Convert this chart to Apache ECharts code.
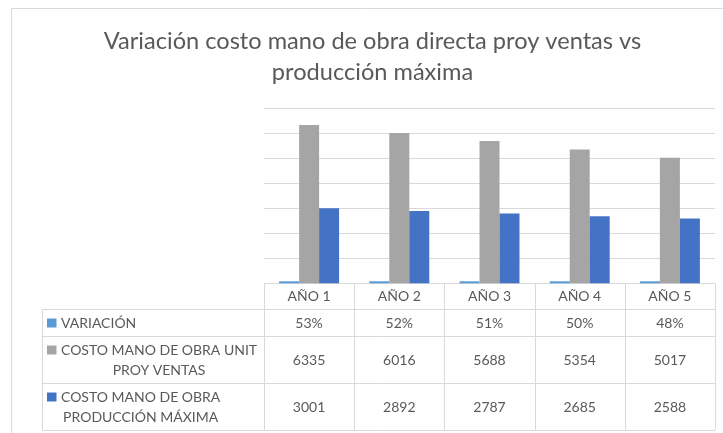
<!DOCTYPE html>
<html>
<head>
<meta charset="utf-8">
<script src="https://cdn.jsdelivr.net/npm/echarts@6/dist/echarts.min.js"></script>
<style>
  html, body { margin: 0; padding: 0; background: #fff; }
  #chart { width: 723px; height: 433px; }
</style>
</head>
<body>
<div id="chart"></div>
<script>
// Años proyectados
const categories = ['AÑO 1', 'AÑO 2', 'AÑO 3', 'AÑO 4', 'AÑO 5'];
// Variación (fracción) entre ambos costos
const variacion = [0.53, 0.52, 0.51, 0.50, 0.48];
// Costo mano de obra unitario según proyección de ventas
const costoProyVentas = [6335, 6016, 5688, 5354, 5017];
// Costo mano de obra a producción máxima
const costoProdMaxima = [3001, 2892, 2787, 2685, 2588];
// Nombres de serie, en líneas tal como aparecen en la tabla de datos
const seriesLabels = [
  ['VARIACIÓN'],
  ['COSTO MANO DE OBRA UNIT', 'PROY VENTAS'],
  ['COSTO MANO DE OBRA', 'PRODUCCIÓN MÁXIMA']
];
const titleLines = ['Variación costo mano de obra directa proy ventas vs', 'producción máxima'];
const colors = ['#5B9BD5', '#A5A5A5', '#4472C4'];

const FONT = 'Lato, "Open Sans", sans-serif';
const TEXT_COLOR = '#595959';
const LINE_COLOR = '#d9d9d9';

const chart = echarts.init(document.getElementById('chart'), null, { renderer: 'canvas' });

const gridTop = 108.3, gridBottom = 283.3;
const seriesData = [variacion, costoProyVentas, costoProdMaxima];

chart.setOption({
  animation: false,
  backgroundColor: '#fff',
  grid: { left: 264, right: 8, top: gridTop, bottom: 433 - gridBottom, containLabel: false },
  xAxis: {
    type: 'category',
    data: categories,
    axisLine: { show: false },
    axisTick: { show: false },
    axisLabel: { show: false }
  },
  yAxis: {
    type: 'value',
    min: 0, max: 7000, interval: 1000,
    axisLabel: { show: false },
    axisLine: { show: false },
    axisTick: { show: false },
    splitLine: { lineStyle: { color: LINE_COLOR, width: 1 } }
  },
  series: seriesData.map((d, i) => ({
    type: 'bar',
    name: seriesLabels[i].join(' '),
    data: d,
    barGap: '0%',
    barCategoryGap: '33.5%',
    barMinHeight: i === 0 ? 2 : 0,
    itemStyle: { color: colors[i] }
  }))
});

// Tabla de datos bajo el gráfico
const measureCtx = document.createElement('canvas').getContext('2d');
function textWidth(str, size) {
  measureCtx.font = size + 'px ' + FONT;
  return measureCtx.measureText(str).width;
}

const x0 = chart.convertToPixel({ xAxisIndex: 0 }, 0);
const x1 = chart.convertToPixel({ xAxisIndex: 0 }, 1);
const band = x1 - x0;
const colEdges = categories.map((c, i) => chart.convertToPixel({ xAxisIndex: 0 }, i) - band / 2);
colEdges.push(colEdges[colEdges.length - 1] + band);
const tableLeft = 42;
const tableRight = colEdges[colEdges.length - 1];
const rowEdges = [gridBottom, 308.5, 335.5, 382.5, 429.5];
const FS = 14;

const els = [];
// Marco exterior
els.push({ type: 'rect', shape: { x: 11.5, y: 8.5, width: 800, height: 500 },
  style: { fill: null, stroke: LINE_COLOR, lineWidth: 1 }, z: -1 });

// Título centrado en dos líneas
titleLines.forEach((t, k) => {
  els.push({ type: 'text', x: 372.5, y: 41 + k * 31,
    style: { text: t, font: '23.6px ' + FONT, fill: TEXT_COLOR, align: 'center', verticalAlign: 'middle' } });
});

function hline(xa, xb, y) {
  els.push({ type: 'line', shape: { x1: xa, y1: Math.round(y) + 0.5, x2: xb, y2: Math.round(y) + 0.5 },
    style: { stroke: LINE_COLOR, lineWidth: 1 } });
}
function vline(x, ya, yb) {
  els.push({ type: 'line', shape: { x1: Math.round(x) + 0.5, y1: ya, x2: Math.round(x) + 0.5, y2: yb },
    style: { stroke: LINE_COLOR, lineWidth: 1 } });
}
// Líneas horizontales
hline(colEdges[0], tableRight, rowEdges[0]);
for (let r = 1; r < rowEdges.length; r++) hline(tableLeft, tableRight, rowEdges[r]);
// Líneas verticales
colEdges.forEach(x => vline(x, rowEdges[0], rowEdges[4] + 0.5));
vline(tableLeft, rowEdges[1] + 0.5, rowEdges[4] + 0.5);

function cellText(str, cx, cy) {
  els.push({ type: 'text', x: cx, y: cy,
    style: { text: str, font: FS + 'px ' + FONT, fill: TEXT_COLOR, align: 'center', verticalAlign: 'middle' } });
}
// Encabezados
categories.forEach((c, i) => cellText(c, colEdges[i] + band / 2, (rowEdges[0] + rowEdges[1]) / 2 + 1));
// Valores
const formatters = [v => Math.round(v * 100) + '%', v => String(v), v => String(v)];
seriesData.forEach((d, r) => {
  const cy = (rowEdges[r + 1] + rowEdges[r + 2]) / 2 + 1;
  d.forEach((v, i) => cellText(formatters[r](v), colEdges[i] + band / 2, cy));
});
// Etiquetas de serie con su clave de color
const lineH = 20;
seriesLabels.forEach((lines, r) => {
  const cy = (rowEdges[r + 1] + rowEdges[r + 2]) / 2 + 1;
  const firstY = cy - (lines.length - 1) * lineH / 2;
  const w = Math.max(...lines.map(l => textWidth(l, FS)));
  const textLeft = 61;
  els.push({ type: 'rect', shape: { x: 47, y: firstY - 4.5, width: 9.5, height: 9 },
    style: { fill: colors[r] } });
  lines.forEach((l, k) => {
    els.push({ type: 'text', x: textLeft + w / 2, y: firstY + k * lineH,
      style: { text: l, font: FS + 'px ' + FONT, fill: TEXT_COLOR, align: 'center', verticalAlign: 'middle' } });
  });
});

chart.setOption({ graphic: { elements: els } });
</script>
</body>
</html>
